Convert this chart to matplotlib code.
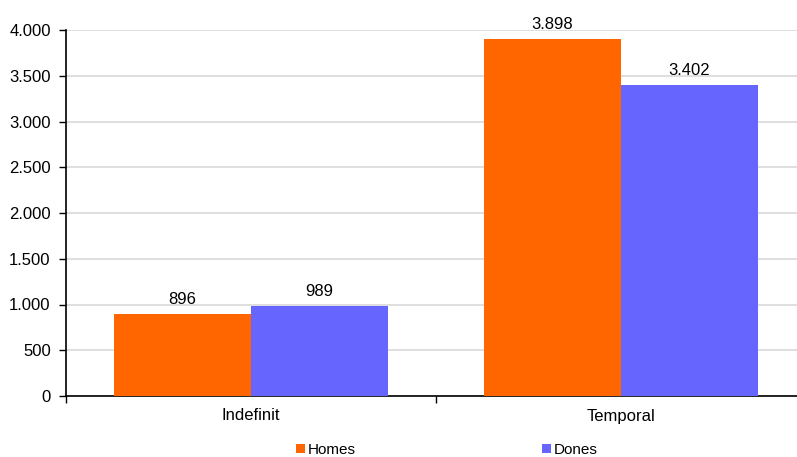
import matplotlib
matplotlib.use('Agg')
import matplotlib.pyplot as plt
from matplotlib.patches import Patch
from matplotlib.ticker import FuncFormatter, FixedLocator
import numpy as np

categories = ['Indefinit', 'Temporal']
series_names = ['Homes', 'Dones']
homes = [896, 3898]
dones = [989, 3402]
colors = ['#FF6600', '#6666FF']
y_ticks = [0, 500, 1000, 1500, 2000, 2500, 3000, 3500, 4000]

plt.rcParams['font.family'] = ['Liberation Sans', 'DejaVu Sans']


def thousands(v, pos=None):
    return '{:,.0f}'.format(v).replace(',', '.')


fig = plt.figure(figsize=(7.97, 4.57), dpi=100)
ax = fig.add_axes([66 / 797, 61 / 457, 740 / 797, 366 / 457])

x = np.arange(len(categories))
w = 0.37
b1 = ax.bar(x - w / 2, homes, w, color=colors[0], zorder=3)
b2 = ax.bar(x + w / 2, dones, w, color=colors[1], zorder=3)

for bars, vals in ((b1, homes), (b2, dones)):
    for r, v in zip(bars, vals):
        ax.annotate(thousands(v), (r.get_x() + r.get_width() / 2, v),
                    xytext=(0, 5), textcoords='offset points',
                    ha='center', va='bottom', fontsize=12)

ax.set_xlim(-0.5, len(categories) - 0.5)
ax.set_ylim(0, 4000)
ax.set_yticks(y_ticks)
ax.yaxis.set_major_formatter(FuncFormatter(thousands))
ax.yaxis.grid(True, color='#D9D9D9', linewidth=1.2, zorder=0)

ax.set_xticks(x)
ax.set_xticklabels(categories)
ax.xaxis.set_minor_locator(FixedLocator(np.arange(-0.5, len(categories), 1.0)))
ax.tick_params(axis='x', which='major', length=0, pad=9, labelsize=12)
ax.tick_params(axis='x', which='minor', length=5, width=1, direction='out')
ax.tick_params(axis='y', length=5, width=1, direction='out', pad=6, labelsize=12)

for s in ('top', 'right'):
    ax.spines[s].set_visible(False)
for s in ('left', 'bottom'):
    ax.spines[s].set_linewidth(1.2)
    ax.spines[s].set_color('black')

handles = [Patch(facecolor=c, edgecolor='none') for c in colors]
fig.legend(handles, series_names, loc='center', ncol=2,
           bbox_to_anchor=(447 / 797, 7 / 457), frameon=False,
           handlelength=0.55, handleheight=0.55, handletextpad=0.2,
           columnspacing=12.2, fontsize=11)

fig.savefig('out.png', dpi=100)
